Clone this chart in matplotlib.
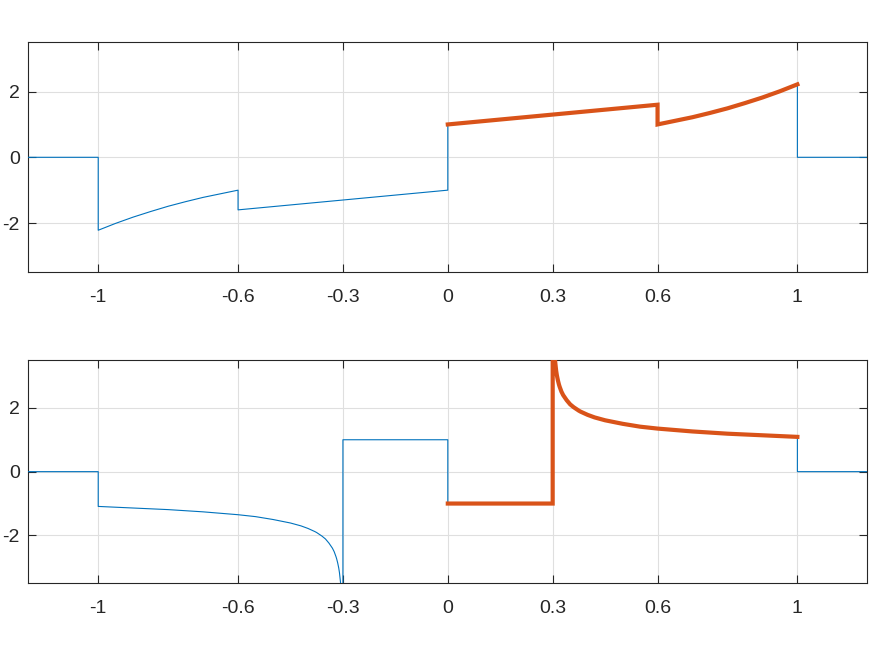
import numpy as np
import matplotlib
matplotlib.use("Agg")
import matplotlib.pyplot as plt

plt.rcParams['font.family'] = ['Liberation Sans', 'DejaVu Sans']

xticks = [-1, -0.6, -0.3, 0, 0.3, 0.6, 1]
xtick_labels = ['-1', '-0.6', '-0.3', '0', '0.3', '0.6', '1']
yticks = [-2, 0, 2]
ytick_labels = ['-2', '0', '2']

# top panel: full curve (blue) and the part on [0, 1] (red)
top_x = [-1.2, -1.0, -1.0, -0.95, -0.9, -0.85, -0.8, -0.75, -0.7, -0.65, -0.6,
         -0.6, 0.0, 0.0, 0.6, 0.6, 0.65, 0.7, 0.75, 0.8, 0.85, 0.9, 0.95, 1.0, 1.0, 1.2]
top_y = [0.0, 0.0, -2.22, -2.01, -1.82, -1.65, -1.49, -1.35, -1.22, -1.11, -1.0,
         -1.6, -1.0, 1.0, 1.6, 1.0, 1.11, 1.22, 1.35, 1.49, 1.65, 1.82, 2.01, 2.22, 0.0, 0.0]
top_red_x = [0.0, 0.6, 0.6, 0.65, 0.7, 0.75, 0.8, 0.85, 0.9, 0.95, 1.0]
top_red_y = [1.0, 1.6, 1.0, 1.11, 1.22, 1.35, 1.49, 1.65, 1.82, 2.01, 2.22]

# bottom panel, right branch (blue left branch mirrors it)
branch_dx = [0.0001, 0.0005, 0.001, 0.002, 0.003, 0.005, 0.007, 0.01, 0.012, 0.015,
             0.018, 0.02, 0.025, 0.03, 0.04, 0.05, 0.06, 0.075, 0.08, 0.1, 0.12,
             0.15, 0.2, 0.25, 0.3, 0.4, 0.5, 0.6, 0.7]
branch_y = [10.0, 6.69, 5.62, 4.73, 4.27, 3.76, 3.46, 3.16, 3.02, 2.86,
            2.73, 2.66, 2.51, 2.40, 2.24, 2.11, 2.02, 1.91, 1.88, 1.78, 1.70,
            1.61, 1.50, 1.41, 1.35, 1.26, 1.19, 1.14, 1.09]

bx_right = [0.3 + d for d in branch_dx]
bx_left = [-0.3 - d for d in branch_dx][::-1]
by_left = [-v for v in branch_y][::-1]

bot_x = [-1.2, -1.0] + bx_left + [-0.3, 0.0, 0.0, 0.3, 0.3] + bx_right + [1.0, 1.2]
bot_y = [0.0, 0.0] + by_left + [1.0, 1.0, -1.0, -1.0, -1.0] + branch_y + [0.0, 0.0]
bot_red_x = [0.0, 0.3, 0.3] + bx_right
bot_red_y = [-1.0, -1.0, -1.0] + branch_y

blue = '#0072BD'
red = '#D95319'
axcol = '#262626'

fig = plt.figure(figsize=(8.75, 6.57), dpi=100)
ax1 = fig.add_axes([28.3 / 875, 1 - 272.3 / 657, 839 / 875, 230 / 657])
ax2 = fig.add_axes([28.3 / 875, 1 - 583.3 / 657, 839 / 875, 223.3 / 657])

panels = [(ax1, top_x, top_y, top_red_x, top_red_y),
          (ax2, bot_x, bot_y, bot_red_x, bot_red_y)]
for ax, bx, by, rx, ry in panels:
    ax.plot(bx, by, color=blue, lw=0.8, zorder=3)
    ax.plot(rx, ry, color=red, lw=3.0, zorder=4, solid_joinstyle='miter')
    ax.set_xlim(-1.2, 1.2)
    ax.set_ylim(-3.5, 3.5)
    ax.set_xticks(xticks)
    ax.set_xticklabels(xtick_labels)
    ax.set_yticks(yticks)
    ax.set_yticklabels(ytick_labels)
    ax.grid(True, color='#dfdfdf', lw=0.8)
    ax.set_axisbelow(True)
    ax.tick_params(direction='in', length=6, width=0.8, color=axcol,
                   labelsize=14, labelcolor=axcol, top=True, right=True)
    ax.tick_params(axis='x', pad=12)
    ax.tick_params(axis='y', pad=6)
    for s in ax.spines.values():
        s.set_color(axcol)
        s.set_linewidth(0.8)

fig.savefig('out.png', dpi=100)
